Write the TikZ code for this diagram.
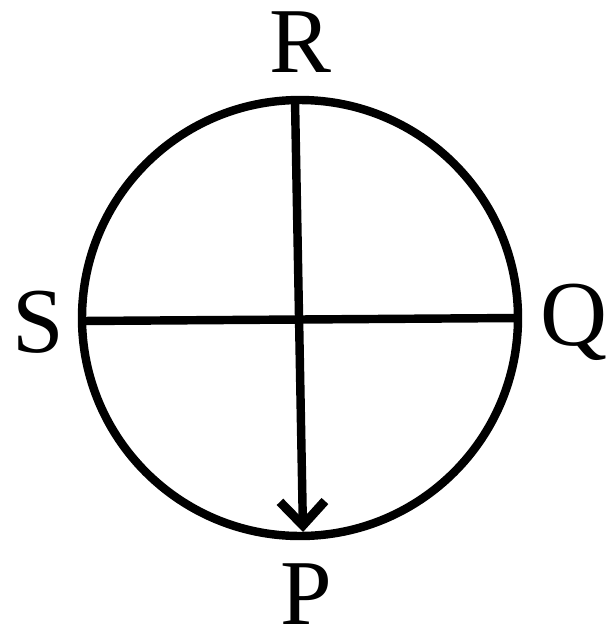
\documentclass[tikz,border=0pt]{standalone}
\usepackage{fontspec}
\setmainfont{Liberation Serif}
\usetikzlibrary{arrows.meta}
\begin{document}
\begin{tikzpicture}[x=0.025cm,y=-0.025cm,
  thick line/.style={line width=6pt},
  lbl/.style={font=\fontsize{66}{68}\selectfont, inner sep=0pt}]
\useasboundingbox (0,0) rectangle (616,640);
\coordinate (O) at (300,318);
\draw[thick line] (O) circle[radius=218];
\coordinate (top) at (295,100);
\coordinate (bot) at (303,532);
\coordinate (left) at (82,321);
\coordinate (right) at (518,318);
\draw[thick line] (left) -- (right);
\draw[thick line, -{Straight Barb[length=17pt,width=32pt,line width=6.5pt]}] (top) -- (bot);
\node[lbl] (R) at (300,42) {R};
\node[lbl] (S) at (38,322) {S};
\node[lbl] (Q) at (574,322) {Q};
\node[lbl] (P) at (306,594) {P};
\end{tikzpicture}
\end{document}
